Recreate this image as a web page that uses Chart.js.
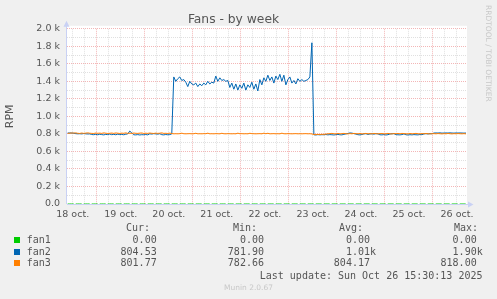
<!DOCTYPE html>
<html>
<head>
<meta charset="utf-8">
<script src="https://cdn.jsdelivr.net/npm/chart.js@4.4.1/dist/chart.umd.min.js"></script>
<style>
  html, body { margin: 0; padding: 0; background: #f0f0f0; }
  #wrap { position: relative; width: 497px; height: 299px; overflow: hidden; }
  canvas { position: absolute; left: 0; top: 0; }
  .t { position: absolute; font: 10px 'DejaVu Sans Mono', monospace; color: #555; line-height: 12px; white-space: pre; }
  .sw { position: absolute; width: 6px; height: 6px; }
  #rrd { position: absolute; left: 484px; top: 5px; writing-mode: vertical-rl; font: 7.5px 'DejaVu Sans'; color: #c8c8c8; line-height: 9px; }
  #munin { position: absolute; left: 0; width: 497px; top: 283px; text-align: center; font: 7.5px 'DejaVu Sans'; color: #c8c8c8; line-height: 10px; }
</style>
</head>
<body>
<div id="wrap">
  <canvas id="c" width="497" height="299"></canvas>
  <div id="rrd">RRDTOOL / TOBI OETIKER</div>
  <div id="munin">Munin 2.0.67</div>
</div>
<script>
// series, one value per hour starting 18 oct 09:30
const seriesNames = ['fan1', 'fan2', 'fan3'];
const seriesColors = ['#00cc00', '#0066b3', '#ff8000'];
const startHour = 9.5;
const stepHours = 1;

const dayLabels = ['18 oct.', '19 oct.', '20 oct.', '21 oct.', '22 oct.', '23 oct.', '24 oct.', '25 oct.', '26 oct.'];

const fan1 = [
  0,0,0,0,0,0,0,0,0,0,0,0,0,0,0,0,0,0,0,0,
  0,0,0,0,0,0,0,0,0,0,0,0,0,0,0,0,0,0,0,0,
  0,0,0,0,0,0,0,0,0,0,0,0,0,0,0,0,0,0,0,0,
  0,0,0,0,0,0,0,0,0,0,0,0,0,0,0,0,0,0,0,0,
  0,0,0,0,0,0,0,0,0,0,0,0,0,0,0,0,0,0,0,0,
  0,0,0,0,0,0,0,0,0,0,0,0,0,0,0,0,0,0,0,0,
  0,0,0,0,0,0,0,0,0,0,0,0,0,0,0,0,0,0,0,0,
  0,0,0,0,0,0,0,0,0,0,0,0,0,0,0,0,0,0,0,0,
  0,0,0,0,0,0,0,0,0,0,0,0,0,0,0,0,0,0,0,0,
  0,0,0,0,0,0,0,0,0,0,0,0,0,0,0,0,0,0,0,0
];

const fan2 = [
  810,811,810,808,
  803,801,802,800,804,801,799,800,
  793,791,795,790,796,792,789,794,
  792,798,791,795,790,797,792,794,790,796,800,
  832,812,
  790,789,792,788,791,790,793,789,
  801,798,803,800,797,802,
  791,789,793,790,792,
  800,
  1450,1400,1430,1450,1410,1420,1390,1340,1400,1370,
  1360,1380,1340,1370,1350,1380,1360,1400,1370,1390,
  1380,1460,1400,1440,1410,1420,1400,1410,1330,1380,
  1310,1370,1300,1360,1320,1380,1300,1360,1330,1390,
  1310,1370,1290,1420,1360,1440,1400,1470,1410,1450,
  1380,1460,1420,1480,1400,1470,1360,1420,1450,1380,
  1410,1370,1430,1400,1420,1400,1410,1420,1450,1840,
  790,788,792,789,791,790,793,
  789,792,790,788,791,794,790,789,795,
  800,805,811,809,803,
  798,791,789,793,800,802,
  794,799,801,797,803,800,
  790,789,792,788,791,799,
  801,803,791,790,
  789,792,800,
  790,788,791,789,792,790,789,793,791,
  800,802,799,803,801,
  810,811,810,812,809,810,811,810,812,810,809,811,810,811,810,809,810
];

const fan3 = [
  806,808,811,809,812,807,805,810,806,809,
  812,808,806,805,810,807,809,806,812,808,
  805,807,810,806,811,808,805,809,807,812,
  806,808,805,810,807,806,809,811,805,808,
  806,810,807,805,809,806,808,812,806,807,
  805,809,804,
  801,802,801,803,808,802,801,802,803,801,
  802,807,801,802,801,803,802,808,801,802,
  801,803,802,801,807,802,801,803,802,801,
  802,801,808,802,803,801,802,801,807,803,
  802,801,802,803,801,808,802,807,801,802,
  803,801,802,801,808,802,801,803,802,801,
  802,803,801,802,801,802,803,801,802,799,
  793,792,794,793,795,794,798,
  801,803,806,802,800,805,801,803,806,
  802,800,804,801,806,
  803,801,805,800,802,806,
  801,804,800,806,802,801,
  803,805,800,802,806,801,
  800,804,802,805,
  801,806,803,
  802,800,805,801,803,806,802,800,804,
  801,805,802,800,803,
  803,801,804,802,800,803,801,805,802,800,803,801,804,802,801,803,800
];

const yTickValues = [0, 200, 400, 600, 800, 1000, 1200, 1400, 1600, 1800, 2000];
const yTickLabels = ['0.0', '0.2 k', '0.4 k', '0.6 k', '0.8 k', '1.0 k', '1.2 k', '1.4 k', '1.6 k', '1.8 k', '2.0 k'];

const colHeaders = ['Cur:', 'Min:', 'Avg:', 'Max:'];
const curVals = ['0.00 ', '804.53 ', '801.77 '];
const minVals = ['0.00 ', '781.90 ', '782.66 '];
const avgVals = ['0.00 ', '1.01k', '804.17 '];
const maxVals = ['0.00 ', '1.90k', '818.00 '];
const lastUpdate = 'Last update: Sun Oct 26 15:30:13 2025';

const toPoints = arr => arr.map((v, i) => ({ x: startHour + i * stepHours, y: v }));

const MAJOR = '#f3b6b6';
const MINOR = '#e0e0e0';
const AXIS = '#c9d1f4';

const frame = {
  id: 'frame',
  beforeDraw(chart) {
    const { ctx, chartArea: a } = chart;
    ctx.save();
    ctx.fillStyle = '#fff';
    ctx.fillRect(a.left, a.top - 3, a.right - a.left, a.bottom - a.top + 3);
    ctx.restore();
  },
  beforeDatasetsDraw(chart) {
    const { ctx, chartArea: a } = chart;
    ctx.save();
    ctx.strokeStyle = AXIS;
    ctx.lineWidth = 1;
    ctx.beginPath();
    ctx.moveTo(a.left - 0.5, a.bottom);
    ctx.lineTo(a.left - 0.5, a.top - 3);
    ctx.moveTo(a.left, a.bottom + 0.5);
    ctx.lineTo(a.right + 1, a.bottom + 0.5);
    ctx.stroke();
    ctx.fillStyle = AXIS;
    ctx.beginPath();
    ctx.moveTo(a.left - 3.5, a.top - 2);
    ctx.lineTo(a.left + 2.5, a.top - 2);
    ctx.lineTo(a.left - 0.5, a.top - 8);
    ctx.closePath();
    ctx.fill();
    ctx.beginPath();
    ctx.moveTo(a.right + 1, a.bottom - 2.5);
    ctx.lineTo(a.right + 1, a.bottom + 3.5);
    ctx.lineTo(a.right + 6.5, a.bottom + 0.5);
    ctx.closePath();
    ctx.fill();
    ctx.restore();
  }
};

const xTicks = [];
for (let h = 12; h <= 204; h += 6) xTicks.push({ value: h });
const yTicks = [];
for (let v = 0; v <= 2000; v += 100) yTicks.push({ value: v });

new Chart(document.getElementById('c'), {
  type: 'line',
  data: {
    datasets: [
      { label: seriesNames[0], data: toPoints(fan1), borderColor: seriesColors[0], borderWidth: 1, borderDash: [6, 2], pointRadius: 0, order: 0 },
      { label: seriesNames[1], data: toPoints(fan2), borderColor: seriesColors[1], borderWidth: 1, pointRadius: 0, order: 2 },
      { label: seriesNames[2], data: toPoints(fan3), borderColor: seriesColors[2], borderWidth: 1, pointRadius: 0, order: 1 }
    ]
  },
  options: {
    responsive: false,
    animation: false,
    devicePixelRatio: 1,
    layout: { padding: { left: 0, right: 30, top: 0, bottom: 79 } },
    plugins: {
      legend: { display: false },
      tooltip: { enabled: false },
      title: {
        display: true,
        text: 'Fans - by week',
        color: '#555',
        font: { family: 'DejaVu Sans', size: 12.3, weight: 'normal' },
        padding: { top: 12.5, bottom: 1.5 }
      }
    },
    scales: {
      x: {
        type: 'linear',
        min: 9.15,
        max: 209,
        afterBuildTicks: s => { s.ticks = xTicks.map(t => ({ value: t.value })); },
        afterFit: s => { s.height = 16; },
        grid: {
          drawTicks: false,
          color: c => (c.tick && c.tick.value % 24 === 0) ? MAJOR : MINOR
        },
        border: { display: false, dash: [1, 1] },
        ticks: {
          autoSkip: false,
          maxRotation: 0,
          minRotation: 0,
          padding: 5,
          color: '#555',
          font: { family: 'DejaVu Sans', size: 9.5 },
          callback: v => (v % 24 === 12) ? dayLabels[(v - 12) / 24] : ''
        }
      },
      y: {
        min: 0,
        max: 2000,
        afterBuildTicks: s => { s.ticks = yTicks.map(t => ({ value: t.value })); },
        afterFit: s => { s.width = 67; },
        grid: {
          drawTicks: false,
          color: c => (c.tick && c.tick.value % 200 === 0) ? MAJOR : MINOR
        },
        border: { display: false, dash: [1, 1] },
        title: {
          display: true,
          text: 'RPM',
          color: '#555',
          font: { family: 'DejaVu Sans', size: 11 },
          padding: { top: 3.4, bottom: 0 }
        },
        ticks: {
          autoSkip: false,
          padding: 7,
          color: '#555',
          font: { family: 'DejaVu Sans', size: 9.5 },
          callback: v => {
            const k = yTickValues.indexOf(v);
            return k >= 0 ? yTickLabels[k] : '';
          }
        }
      }
    }
  },
  plugins: [frame]
});

// legend below the graph
const wrap = document.getElementById('wrap');
function addText(txt, x, top, alignRight) {
  const d = document.createElement('div');
  d.className = 't';
  d.textContent = txt;
  d.style.top = top + 'px';
  if (alignRight) d.style.right = (497 - x) + 'px';
  else d.style.left = x + 'px';
  wrap.appendChild(d);
}
const headerRight = [150, 257, 363, 478];
const valueRight = [162.7, 270, 376, 482.7];
const rowTops = [233.7, 245.7, 257.2];
const swatchTops = [237, 248.5, 260];
colHeaders.forEach((h, i) => addText(h, headerRight[i], 222.2, true));
const cols = [curVals, minVals, avgVals, maxVals];
seriesNames.forEach((n, r) => {
  const sw = document.createElement('div');
  sw.className = 'sw';
  sw.style.left = '14px';
  sw.style.top = swatchTops[r] + 'px';
  sw.style.background = seriesColors[r];
  wrap.appendChild(sw);
  addText(n, 26.7, rowTops[r], false);
  cols.forEach((c, i) => addText(c[r], valueRight[i], rowTops[r], true));
});
addText(lastUpdate, 482.5, 270.2, true);
</script>
</body>
</html>
